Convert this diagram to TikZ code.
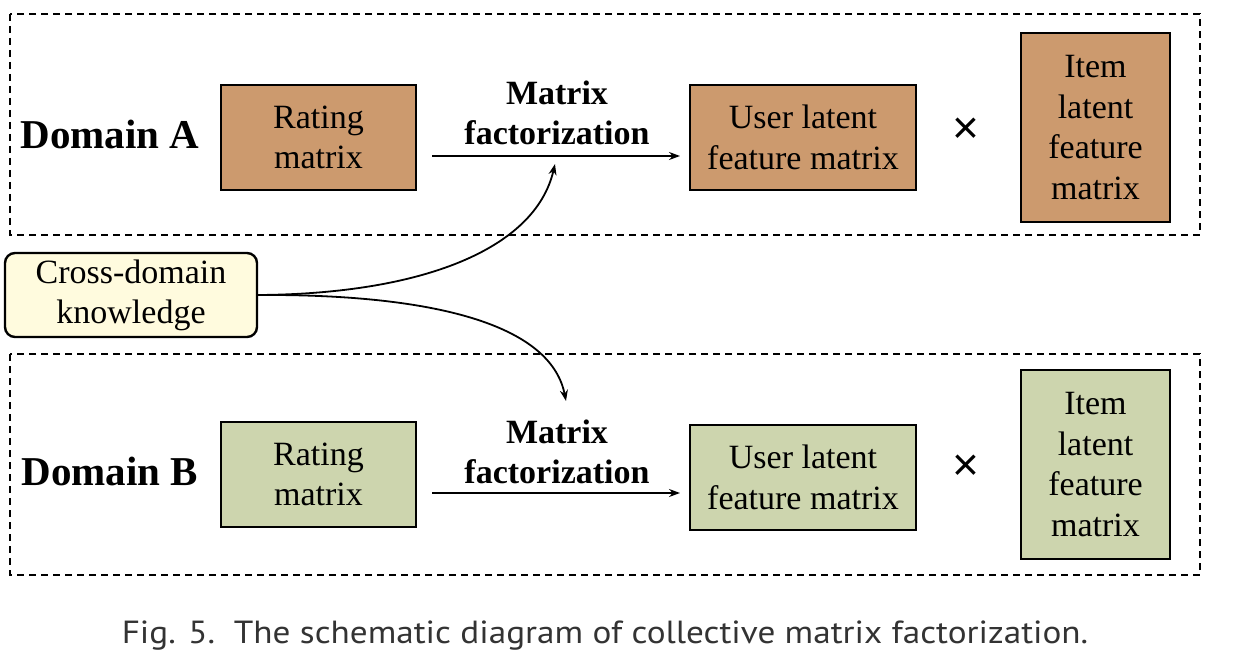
\documentclass[tikz,border=0pt]{standalone}
\usepackage{fontspec}
\setmainfont{Liberation Serif}
\newfontfamily\capfont{PT Sans}
\newfontfamily\crossfont{Liberation Sans}
\usetikzlibrary{arrows.meta}
\begin{document}
\begin{tikzpicture}[x=1pt,y=-1pt,
  dombox/.style={draw=black,line width=1.3pt,dash pattern=on 7pt off 5pt},
  matbox/.style={draw=black,line width=2.4pt,align=center,inner sep=0pt,font=\fontsize{34}{40.5}\selectfont},
  afill/.style={fill=tanA},
  bfill/.style={fill=greenB},
  flowarrow/.style={-{Stealth[length=11pt,width=8pt]},line width=1.6pt},
  mflabel/.style={font=\fontsize{34}{40}\selectfont\bfseries,align=center},
  domlabel/.style={font=\fontsize{41}{44}\selectfont\bfseries},
  timeslabel/.style={font=\crossfont\fontsize{46}{46}\selectfont}]
\definecolor{tanA}{RGB}{204,154,110}
\definecolor{greenB}{RGB}{205,213,174}
\definecolor{yel}{RGB}{255,251,222}
\useasboundingbox (0,0) rectangle (1233,660);

% Domain A
\draw[dombox] (10,14) rectangle (1200,235);
\node[domlabel] (da) at (110,134) {Domain A};
\node[matbox,afill,minimum width=195pt,minimum height=105pt] (ra) at (318.5,137.5) {Rating\\matrix};
\node[matbox,afill,minimum width=226pt,minimum height=105pt] (ua) at (803,137.5) {User latent\\feature matrix};
\node[timeslabel] (xa) at (966,131) {×};
\node[matbox,afill,minimum width=149pt,minimum height=189pt] (ia) at (1095.5,127.5) {Item\\latent\\feature\\matrix};
\coordinate (sa) at (432,156);
\coordinate (ea) at (680,156);
\draw[flowarrow] (sa) -- (ea);
\node[mflabel] (mfa) at (557,113) {Matrix\\factorization};

% Domain B
\draw[dombox] (10,354) rectangle (1200,575);
\node[domlabel] (db) at (110,471) {Domain B};
\node[matbox,bfill,minimum width=195pt,minimum height=105pt] (rb) at (318.5,474.5) {Rating\\matrix};
\node[matbox,bfill,minimum width=226pt,minimum height=105pt] (ub) at (803,477.5) {User latent\\feature matrix};
\node[timeslabel] (xb) at (966,468) {×};
\node[matbox,bfill,minimum width=149pt,minimum height=189pt] (ib) at (1095.5,464.5) {Item\\latent\\feature\\matrix};
\coordinate (sb) at (432,493);
\coordinate (eb) at (680,493);
\draw[flowarrow] (sb) -- (eb);
\node[mflabel] (mfb) at (557,452) {Matrix\\factorization};

% Cross-domain knowledge
\node[draw=black,line width=2.4pt,fill=yel,rounded corners=10pt,align=center,inner sep=0pt,
  minimum width=252pt,minimum height=84pt,font=\fontsize{34}{40}\selectfont] (cd) at (131,295) {Cross-domain\\knowledge};
\coordinate (ta) at (555,164);
\coordinate (tb) at (566,401);
\draw[flowarrow,line width=1.8pt] (cd.east) .. controls (420,294) and (535,250) .. (ta);
\draw[flowarrow,line width=1.8pt] (cd.east) .. controls (420,294) and (550,320) .. (tb);

% Caption
\node[font=\capfont\fontsize{32}{36}\selectfont,text=black!80] (cap) at (605,636) {\scalebox{1.1}[1]{Fig. 5.\ \ The schematic diagram of collective matrix factorization.}};
\end{tikzpicture}
\end{document}
